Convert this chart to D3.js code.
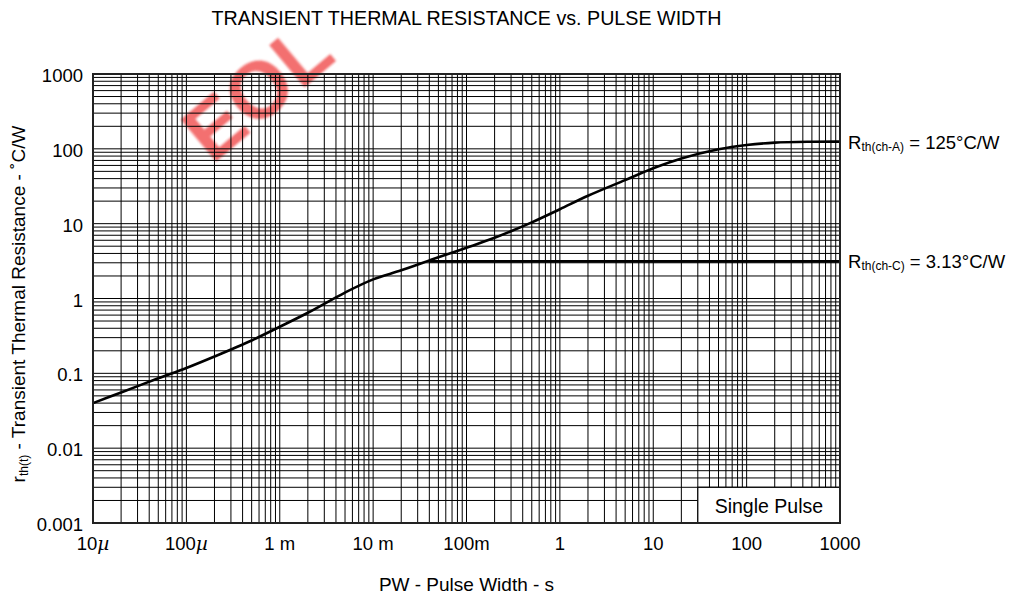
<!DOCTYPE html>
<html>
<head>
<meta charset="utf-8">
<title></title>
<script src="https://d3js.org/d3.v7.min.js"></script>
<style>
body { margin: 0; background: #fff; }
svg { display: block; font-family: "Liberation Sans", Arial, Helvetica, sans-serif; }
</style>
</head>
<body>
<div id="chart"></div>
<script>
const margin = { top: 74, right: 174, bottom: 76, left: 93 };
const width = 1014, height = 599;
const plotW = width - margin.left - margin.right;
const plotH = height - margin.top - margin.bottom;

// pulse width (s) and transient thermal resistance ch-A (°C/W)
const pulseWidth = [1e-5, 2e-5, 5e-5, 1e-4, 2e-4, 5e-4, 1e-3, 2e-3, 5e-3, 1e-2, 2e-2, 5e-2,
    0.1, 0.2, 0.5, 1, 2, 5, 10, 20, 50, 100, 200, 500, 1000];
const rthChA = [0.040, 0.0556, 0.0858, 0.118, 0.168, 0.275, 0.419, 0.645, 1.20, 1.80, 2.38, 3.56,
    4.77, 6.47, 10.4, 15.6, 23.6, 38.2, 54.9, 74.2, 98.6, 112.5, 121, 124.5, 125];
// steady-state ch-C line
const chCWidth = [0.04, 1000];
const rthChC = [3.13, 3.13];

const xTicks = [1e-5, 1e-4, 1e-3, 1e-2, 1e-1, 1, 10, 100, 1000];
const xTickLabels = ['10µ', '100µ', '1 m', '10 m', '100m', '1', '10', '100', '1000'];
const yTicks = [0.001, 0.01, 0.1, 1, 10, 100, 1000];
const yTickLabels = ['0.001', '0.01', '0.1', '1', '10', '100', '1000'];

const svg = d3.select('#chart').append('svg')
    .attr('width', width)
    .attr('height', height);

// soft EOL watermark, sits under everything else
svg.append('defs').append('filter').attr('id', 'soft')
    .append('feGaussianBlur').attr('stdDeviation', 0.8);
svg.append('text')
    .attr('transform', 'translate(212,165) rotate(-40)')
    .attr('filter', 'url(#soft)')
    .style('font-size', '80px')
    .style('font-weight', 'bold')
    .attr('fill', 'rgba(238,50,50,0.7)')
    .text('EOL');

const x = d3.scaleLog().domain([1e-5, 1000]).range([0, plotW]);
const y = d3.scaleLog().domain([0.001, 1000]).range([plotH, 0]);

const g = svg.append('g').attr('transform', `translate(${margin.left},${margin.top})`);

// grid lines at 1..9 x each decade
const gridX = [], gridY = [];
for (let e = -5; e < 3; e++) for (let k = 1; k < 10; k++) gridX.push(k * Math.pow(10, e));
for (let e = -3; e < 3; e++) for (let k = 1; k < 10; k++) gridY.push(k * Math.pow(10, e));

g.selectAll('.gx').data(gridX).join('line')
    .attr('x1', d => x(d)).attr('x2', d => x(d))
    .attr('y1', 0).attr('y2', plotH)
    .attr('stroke', '#000').attr('stroke-width', 1);
g.selectAll('.gy').data(gridY).join('line')
    .attr('y1', d => y(d)).attr('y2', d => y(d))
    .attr('x1', 0).attr('x2', plotW)
    .attr('stroke', '#000').attr('stroke-width', 1);

// curves
const line = d3.line()
    .x(d => x(d[0]))
    .y(d => y(d[1]))
    .curve(d3.curveCatmullRom.alpha(0.5));

g.append('path')
    .datum(pulseWidth.map((t, i) => [t, rthChA[i]]))
    .attr('d', line)
    .attr('fill', 'none')
    .attr('stroke', '#000')
    .attr('stroke-width', 2.6);

g.append('path')
    .datum(chCWidth.map((t, i) => [t, rthChC[i]]))
    .attr('d', d3.line().x(d => x(d[0])).y(d => y(d[1])))
    .attr('fill', 'none')
    .attr('stroke', '#000')
    .attr('stroke-width', 2.6);

// "Single Pulse" box in the lower right corner
g.append('rect')
    .attr('x', x(30)).attr('y', y(0.003))
    .attr('width', plotW - x(30)).attr('height', plotH - y(0.003))
    .attr('fill', '#fff').attr('stroke', '#000').attr('stroke-width', 1.2);
g.append('text')
    .attr('x', (x(30) + plotW) / 2).attr('y', plotH - 10)
    .attr('text-anchor', 'middle')
    .style('font-size', '19.5px')
    .text('Single Pulse');

// frame
g.append('rect')
    .attr('width', plotW).attr('height', plotH)
    .attr('fill', 'none').attr('stroke', '#222').attr('stroke-width', 2);

// y tick labels
g.selectAll('.ylab').data(yTicks).join('text')
    .attr('x', -10).attr('y', d => y(d) + 8)
    .attr('text-anchor', 'end')
    .style('font-size', '18.5px')
    .text((d, i) => yTickLabels[i]);

// x tick labels, µ in italics
g.selectAll('.xlab').data(xTicks).join('text')
    .attr('x', d => x(d)).attr('y', plotH + 27)
    .attr('text-anchor', 'middle')
    .style('font-size', '18.5px')
    .each(function (d, i) {
        const lab = xTickLabels[i];
        const t = d3.select(this);
        if (lab.endsWith('µ')) {
            t.append('tspan').text(lab.slice(0, -1));
            t.append('tspan')
                .style('font-family', '"DejaVu Serif", serif').style('font-style', 'italic').text('µ');
        } else {
            t.text(lab);
        }
    });

// title
svg.append('text')
    .attr('x', margin.left + plotW / 2).attr('y', 25)
    .attr('text-anchor', 'middle')
    .style('font-size', '19.7px')
    .text('TRANSIENT THERMAL RESISTANCE vs. PULSE WIDTH');

// x axis title
svg.append('text')
    .attr('x', margin.left + plotW / 2).attr('y', 591)
    .attr('text-anchor', 'middle')
    .style('font-size', '19px')
    .text('PW - Pulse Width - s');

// y axis title
const yt = svg.append('text')
    .attr('transform', `translate(25,304) rotate(-90)`)
    .attr('text-anchor', 'middle')
    .style('font-size', '19px');
yt.append('tspan').text('r');
yt.append('tspan').style('font-size', '12px').attr('dy', 3).text('th(t)');
yt.append('tspan').attr('dy', -3).text(' - Transient Thermal Resistance - ˚C/W');

// right side annotations
const notes = [
    { sub: 'th(ch-A)', val: ' = 125°C/W', at: 125 },
    { sub: 'th(ch-C)', val: ' = 3.13°C/W', at: 3.13 }
];
notes.forEach(n => {
    const t = g.append('text')
        .attr('x', plotW + 8).attr('y', y(n.at) + 7)
        .style('font-size', '18.5px');
    t.append('tspan').text('R');
    t.append('tspan').style('font-size', '12px').attr('dy', 2).text(n.sub);
    t.append('tspan').attr('dy', -2).text(n.val);
});
</script>
</body>
</html>
